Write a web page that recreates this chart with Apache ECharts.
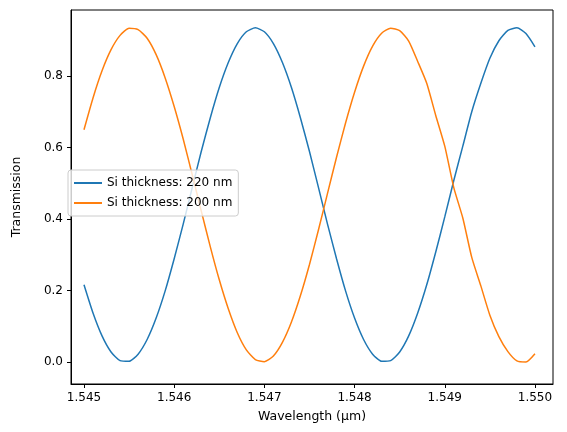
<!DOCTYPE html><html><head><meta charset="utf-8"><script src="https://cdn.jsdelivr.net/npm/echarts@6/dist/echarts.min.js"></script></head><body style="margin:0"><div id="c" style="width:567px;height:432px"></div><script>
const wavelengths=[];for(let k=0;k<51;k++)wavelengths.push(+(1.545+0.0001*k).toFixed(4));
const si220=[.216,.137,.073,.028,.004,.002,.022,.063,.123,.199,.289,.386,.488,.589,.683,.768,.838,.891,.924,.935,.924,.891,.838,.768,.683,.589,.488,.386,.289,.199,.123,.063,.022,.002,.004,.028,.073,.137,.216,.308,.406,.508,.604,.701,.780,.850,.899,.928,.935,.919,.882];
const si200=[.650,.739,.815,.874,.914,.934,.930,.906,.860,.795,.715,.624,.524,.423,.323,.230,.149,.082,.034,.007,.001,.017,.055,.112,.186,.273,.370,.472,.573,.669,.755,.828,.884,.920,.934,.927,.898,.841,.780,.690,.604,.488,.403,.292,.213,.131,.071,.029,.003,.000,.023];
const xTicks=[1.545,1.546,1.547,1.548,1.549,1.550];
const yTicks=[0,0.2,0.4,0.6,0.8];
const f="DejaVu Sans";
const ch=echarts.init(document.getElementById('c'));
const ax={axisLine:{show:true,onZero:false,lineStyle:{color:'#000'}},axisTick:{show:true,length:4,lineStyle:{color:'#000'}},splitLine:{show:false},axisLabel:{color:'#000',fontFamily:f,fontSize:12},nameTextStyle:{color:'#000',fontFamily:f,fontSize:12.5}};
ch.setOption({animation:false,
grid:{left:71,right:14,top:10,bottom:48,show:true,borderColor:'#000',borderWidth:1},
xAxis:Object.assign({},ax,{type:'value',min:1.544856,max:1.5502,name:'Wavelength (µm)',nameLocation:'middle',nameGap:26,
 axisTick:Object.assign({},ax.axisTick,{customValues:xTicks}),axisLabel:Object.assign({},ax.axisLabel,{customValues:xTicks,formatter:v=>v.toFixed(3)})}),
yAxis:Object.assign({},ax,{type:'value',min:-0.0615,max:0.985,name:'Transmission',nameLocation:'middle',nameGap:48,
 axisTick:Object.assign({},ax.axisTick,{customValues:yTicks}),axisLabel:Object.assign({},ax.axisLabel,{customValues:yTicks,formatter:v=>v.toFixed(1)})}),
legend:{orient:'vertical',left:68,top:170,itemWidth:28,itemHeight:2,itemGap:8,padding:[7,6,7,6],borderColor:'#ccc',borderWidth:1,borderRadius:3,backgroundColor:'rgba(255,255,255,0.8)',textStyle:{fontFamily:f,fontSize:12,color:'#000'},icon:'rect'},
series:[
{name:'Si thickness: 220 nm',type:'line',smooth:0.2,showSymbol:false,lineStyle:{width:1.5,color:'#1f77b4'},itemStyle:{color:'#1f77b4'},data:wavelengths.map((x,i)=>[x,si220[i]])},
{name:'Si thickness: 200 nm',type:'line',smooth:0.2,showSymbol:false,lineStyle:{width:1.5,color:'#ff7f0e'},itemStyle:{color:'#ff7f0e'},data:wavelengths.map((x,i)=>[x,si200[i]])}
]});
</script></body></html>
